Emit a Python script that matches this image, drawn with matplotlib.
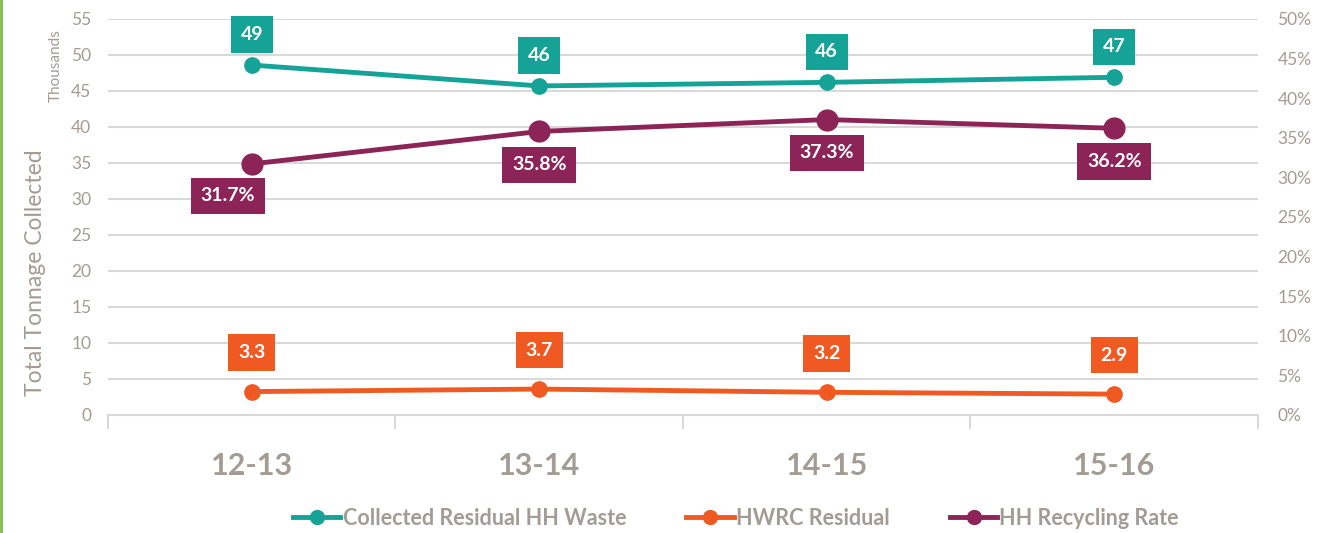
import matplotlib.pyplot as plt
from matplotlib.lines import Line2D

plt.rcParams['font.family'] = ['Lato', 'DejaVu Sans']

years = ['12-13', '13-14', '14-15', '15-16']
residual_waste = [48.6, 45.7, 46.2, 46.9]        # thousands of tonnes
residual_labels = ['49', '46', '46', '47']
hwrc_residual = [3.25, 3.6, 3.15, 2.9]
hwrc_labels = ['3.3', '3.7', '3.2', '2.9']
recycling_rate = [31.7, 35.8, 37.3, 36.2]       # percent

teal = '#14A396'
orange = '#F05A22'
purple = '#8C2457'
grey = '#A39C94'
grid = '#D9D9D9'

fig = plt.figure(figsize=(13.31, 5.33), dpi=100)
ax = fig.add_axes([0.0811, 0.2214, 0.8640, 0.7430])
ax2 = ax.twinx()

x = range(len(years))
ax.plot(x, residual_waste, color=teal, lw=3.5, marker='o', ms=11, zorder=3)
ax.plot(x, hwrc_residual, color=orange, lw=3.5, marker='o', ms=11, zorder=3)
ax2.plot(x, recycling_rate, color=purple, lw=3.5, marker='o', ms=15, zorder=3)

ax.set_xlim(-0.5, 3.5)
ax.set_ylim(0, 55)
ax2.set_ylim(0, 50)
ax.set_yticks(range(0, 56, 5))
ax2.set_yticks(range(0, 51, 5))
ax2.set_yticklabels([f'{v}%' for v in range(0, 51, 5)])

ax.yaxis.grid(True, color=grid, lw=1.5)
ax.set_axisbelow(True)
for a in (ax, ax2):
    for s in a.spines.values():
        s.set_visible(False)
    a.tick_params(axis='y', length=0, labelsize=12.5, labelcolor=grey)
ax.tick_params(axis='y', pad=12)
ax2.tick_params(axis='y', pad=14)
ax.spines['bottom'].set_visible(True)
ax.spines['bottom'].set_color(grid)
ax.spines['bottom'].set_linewidth(1.5)

ax.set_xticks([-0.5, 0.5, 1.5, 2.5, 3.5], minor=False)
ax.set_xticklabels([])
ax.tick_params(axis='x', length=10, width=1.5, color=grid)
ax.set_xticks(list(x), minor=True)
ax.set_xticklabels(years, minor=True, fontsize=22, fontweight='bold', color=grey)
ax.tick_params(axis='x', which='minor', length=0, pad=27)

ax.set_ylabel('Total Tonnage Collected', fontsize=16.5, color=grey)
ax.yaxis.set_label_coords(-0.054, 0.36)
fig.text(0.042, 0.877, 'Thousands', rotation=90, fontsize=11, color=grey,
         ha='center', va='center')

def box(axis, xi, yi, text, color, dx, dy):
    axis.annotate(text, (xi, yi), xytext=(dx, dy), textcoords='offset points',
                  ha='center', va='center', fontsize=14, fontweight='bold',
                  color='white', zorder=5,
                  bbox=dict(boxstyle='square,pad=0.5', fc=color, ec='none'))

for i in x:
    box(ax, i, residual_waste[i], residual_labels[i], teal, 0, 22)
    box(ax, i, hwrc_residual[i], hwrc_labels[i], orange, 0, 28)
    dx, dy = (-17, -23) if i == 0 else (0, -24)
    box(ax2, i, recycling_rate[i], f'{recycling_rate[i]}%', purple, dx, dy)

handles = [Line2D([], [], color=c, lw=3.5, marker='o', ms=10) for c in (teal, orange, purple)]
leg = fig.legend(handles, ['Collected Residual HH Waste', 'HWRC Residual', 'HH Recycling Rate'],
                 loc='center', bbox_to_anchor=(0.553, 0.028), ncol=3, frameon=False,
                 fontsize=15.5, handlelength=2.2, handletextpad=0.1, columnspacing=2.8)
for t in leg.get_texts():
    t.set_color(grey)
    t.set_fontweight('bold')

fig.add_artist(Line2D([0.001, 0.001], [0, 1], transform=fig.transFigure, color='#7CC04B', lw=2))

fig.savefig('out.png', dpi=100)
